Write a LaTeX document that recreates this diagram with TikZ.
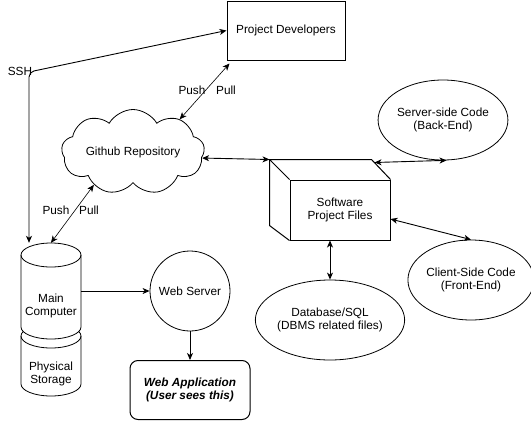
\documentclass[tikz,border=0pt]{standalone}
\usepackage{fontspec}
\setmainfont{Liberation Sans}
\usepackage{tikz}
\usetikzlibrary{arrows.meta}
\usetikzlibrary{shapes}
\usetikzlibrary{positioning}

\begin{document}
\begin{tikzpicture}[x=1pt,y=-1pt,
      >={Stealth[length=7pt,width=6pt,inset=2pt]},
      every node/.style={font=\fontsize{11.8}{13.5}\selectfont, align=center},
      box/.style={draw, line width=1pt, fill=white, inner sep=0pt},
      oval/.style={ellipse, draw, line width=0.8pt, minimum width=120pt, minimum height=80pt, inner sep=0pt},
      link/.style={<->, line width=0.9pt},
      thinlink/.style={<->, line width=0.6pt},
      arr/.style={->, line width=1pt}]
      \useasboundingbox (0,0) rectangle (531,421);

      \node[box, minimum width=118pt, minimum height=59pt] (dev) at (286,30.5) {Project Developers};
      \node[cloud, draw, line width=0.8pt, cloud puffs=9, cloud puff arc=120, cloud ignores aspect,
            minimum width=143pt, minimum height=85pt, inner sep=0pt] (gh) at (133,152) {Github Repository};

      % cube
      \node[box, minimum width=100pt, minimum height=60pt] (spf) at (340,210) {Software\\Project Files};
      \draw[line width=1pt] (spf.north west) -- ++(-20,-20) coordinate (cubetl) -- ++(102,0) coordinate (cubetr) -- (spf.north east);
      \draw[line width=1pt] (cubetl) -- ++(0,66) -- (spf.south west);

      \node[oval]                      (back)  at (443,120) {Server-side Code\\(Back-End)};
      \node[oval, minimum width=118pt] (front) at (471,280) {Client-Side Code\\(Front-End)};
      \node[oval]                      (db)    at (330,320) {Database/SQL\\(DBMS related files)};

      \node[circle, draw, line width=0.8pt, minimum size=80pt, inner sep=0pt] (ws) at (190,291) {Web Server};
      \node[box, rounded corners=8pt, minimum width=120pt, minimum height=59pt,
            font=\fontsize{11.8}{13.5}\selectfont\bfseries\itshape] (app) at (190,390) {Web Application\\(User sees this)};

      % cylinders
      \draw[line width=0.8pt, fill=white] (21,336) -- (21,384) arc[start angle=180, end angle=0, x radius=30, y radius=12]
            -- (81,336) arc[start angle=0, end angle=-180, x radius=30, y radius=12] -- cycle;
      \draw[line width=0.8pt] (21,336) arc[start angle=180, end angle=0, x radius=30, y radius=12];
      \draw[line width=0.8pt, fill=white] (21,255) -- (21,327) arc[start angle=180, end angle=0, x radius=30, y radius=12]
            -- (81,255) arc[start angle=0, end angle=-180, x radius=30, y radius=12] -- cycle;
      \draw[line width=0.8pt] (21,255) arc[start angle=180, end angle=0, x radius=30, y radius=12];
      \node[minimum width=60pt, minimum height=96pt, inner sep=0pt] (mc) at (51,291) {};
      \node (mctext) at (51,306) {Main\\Computer};
      \node (ps)     at (51,374) {Physical\\Storage};

      \coordinate (sshbend) at (29,72);
      \node (ssh) at (20,71) {SSH};
      \draw[link, rounded corners=5pt] ([xshift=-22pt]mc.north) -- (sshbend) -- (dev.west);

      \draw[thinlink] (gh.35) -- ([xshift=3pt,yshift=-3pt]dev.south west);
      \node (push1) at (192,90) {Push};
      \node (pull1) at (226,90) {Pull};
      \draw[thinlink] (gh.220) -- (mc.north);
      \node (push2) at (56,210) {Push};
      \node (pull2) at (89,210) {Pull};

      \draw[link] (gh.-5) -- (cubetl);
      \draw[link] ([shift={(3,3)}]cubetr) -- (back.-85);
      \draw[link] ([yshift=-9pt]spf.east) -- (front.north);
      \draw[link] (db.north |- spf.south) -- (db.north);
      \draw[arr] (mc.east) -- (ws.west);
      \draw[arr] (ws.south) -- (app.north);
    \end{tikzpicture}
\end{document}
